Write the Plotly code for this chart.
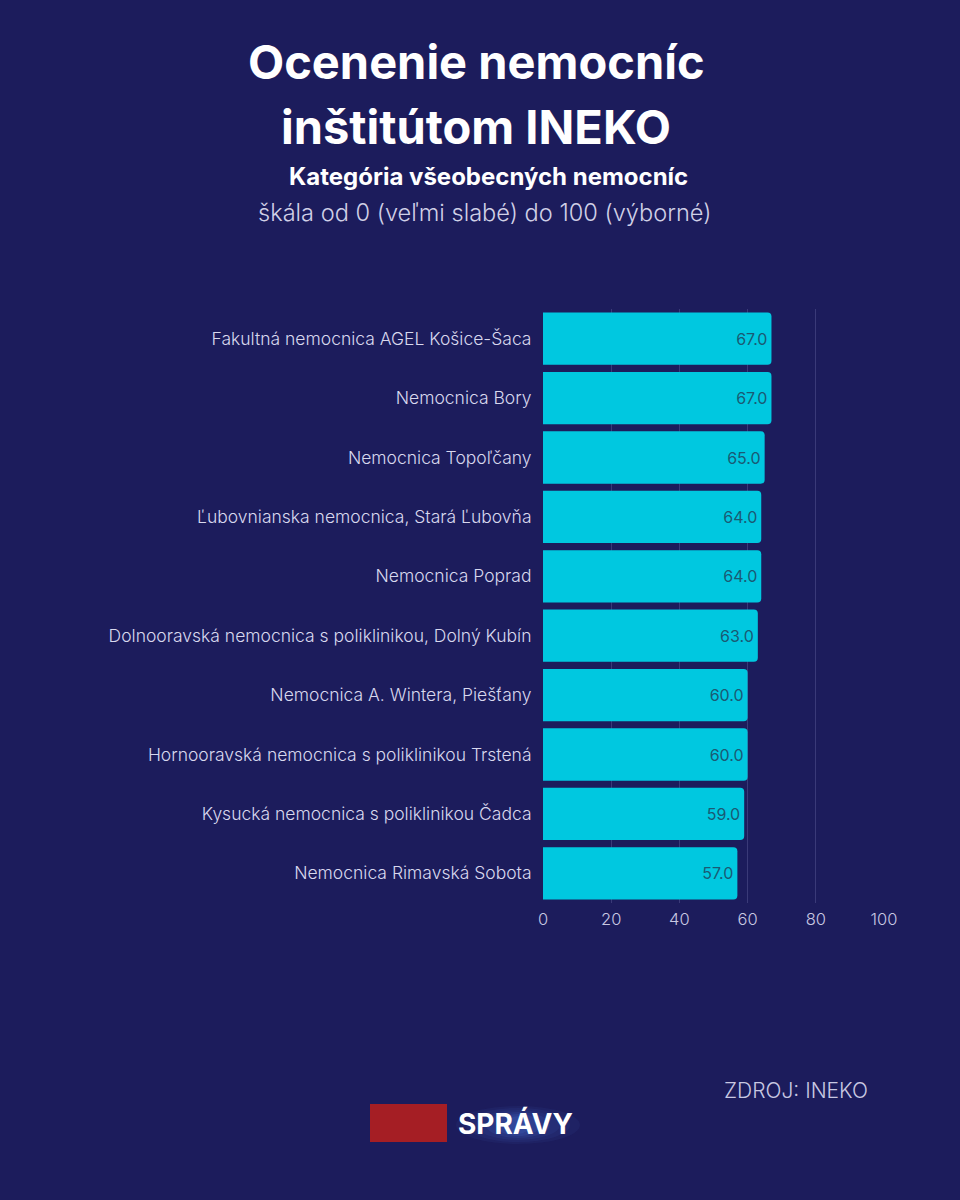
import plotly.graph_objects as go

hospitals = [
    "Fakultná nemocnica AGEL Košice-Šaca",
    "Nemocnica Bory",
    "Nemocnica Topoľčany",
    "Ľubovnianska nemocnica, Stará Ľubovňa",
    "Nemocnica Poprad",
    "Dolnooravská nemocnica s poliklinikou, Dolný Kubín",
    "Nemocnica A. Wintera, Piešťany",
    "Hornooravská nemocnica s poliklinikou Trstená",
    "Kysucká nemocnica s poliklinikou Čadca",
    "Nemocnica Rimavská Sobota",
]
scores = [67.0, 67.0, 65.0, 64.0, 64.0, 63.0, 60.0, 60.0, 59.0, 57.0]
x_ticks = [0, 20, 40, 60, 80, 100]

BG = "#1c1c5c"
BAR = "#00c8e0"
FONT = "Inter"

W, H = 960, 1200
ML, MR, MT, MB = 543, 76, 309, 297
PW, PH = W - ML - MR, H - MT - MB


def px(x):
    return (x - ML) / PW


def py(y):
    return (H - MB - y) / PH


fig = go.Figure()
fig.add_trace(go.Bar(
    y=hospitals,
    x=scores,
    orientation="h",
    marker=dict(color=BAR, line=dict(width=0), cornerradius=4),
    text=[f"{v:.1f}" for v in scores],
    textposition="inside",
    insidetextanchor="end",
    textfont=dict(family=FONT, size=16, color="#1a5a74"),
    hoverinfo="skip",
))

fig.update_layout(
    width=W, height=H,
    paper_bgcolor=BG, plot_bgcolor=BG,
    margin=dict(l=ML, r=MR, t=MT, b=MB),
    bargap=0.12,
    showlegend=False,
    font=dict(family=FONT, color="#d8d8ee"),
    xaxis=dict(
        range=[0, 100], tickvals=x_ticks, ticktext=[str(t) for t in x_ticks],
        showgrid=True, gridcolor="#3a3a78", gridwidth=1,
        zeroline=False, showline=False,
        tickfont=dict(family=FONT, size=16.5, color="#c8c8e2", weight=300),
        ticks="", ticklabelstandoff=4,
    ),
    yaxis=dict(
        autorange="reversed", showgrid=False, zeroline=False, showline=False,
        tickfont=dict(family=FONT, size=17.5, color="#d8d8ee", weight=300),
        ticks="outside", ticklen=7, tickcolor=BG,
    ),
)

annos = [
    dict(text="<b>Ocenenie nemocníc</b>", x=476, y=62, size=47, color="#ffffff", weight=None),
    dict(text="<b>inštitútom INEKO</b>", x=476, y=127, size=47, color="#ffffff", weight=None),
    dict(text="<b>Kategória všeobecných nemocníc</b>", x=488, y=177, size=24, color="#ffffff", weight=None),
    dict(text="škála od 0 (veľmi slabé) do 100 (výborné)", x=484, y=212, size=23.6, color="#d0d0e6", weight=300),
    dict(text="ZDROJ: INEKO", x=796, y=1090, size=21, color="#c8c8e2", weight=300),
]
for a in annos:
    f = dict(family=FONT, size=a["size"], color=a["color"])
    if a["weight"]:
        f["weight"] = a["weight"]
    fig.add_annotation(
        text=a["text"], x=px(a["x"]), y=py(a["y"]),
        xref="paper", yref="paper", xanchor="center", yanchor="middle",
        showarrow=False, font=f,
    )

# Logo
fig.add_shape(type="rect", xref="paper", yref="paper",
              x0=px(370), x1=px(447), y0=py(1142), y1=py(1104),
              fillcolor="#a51e24", line=dict(width=0))
for w, h, op in [(62, 19, 0.06), (52, 17, 0.07), (42, 15, 0.08), (32, 13, 0.1),
                 (22, 11, 0.12), (12, 9, 0.14)]:
    fig.add_shape(type="circle", xref="paper", yref="paper",
                  x0=px(518 - w), x1=px(518 + w), y0=py(1125 + h), y1=py(1125 - h),
                  fillcolor=f"rgba(80,130,235,{op})", line=dict(width=0))
fig.add_annotation(text="<b>SPRÁVY</b>", x=px(515), y=py(1123), xref="paper", yref="paper",
                   xanchor="center", yanchor="middle", showarrow=False,
                   font=dict(family=FONT, size=28, color="#ffffff"))

fig.write_html("out.html", config={"displayModeBar": False},
               post_script="document.body.style.margin='0';document.body.style.background='%s';" % BG)
